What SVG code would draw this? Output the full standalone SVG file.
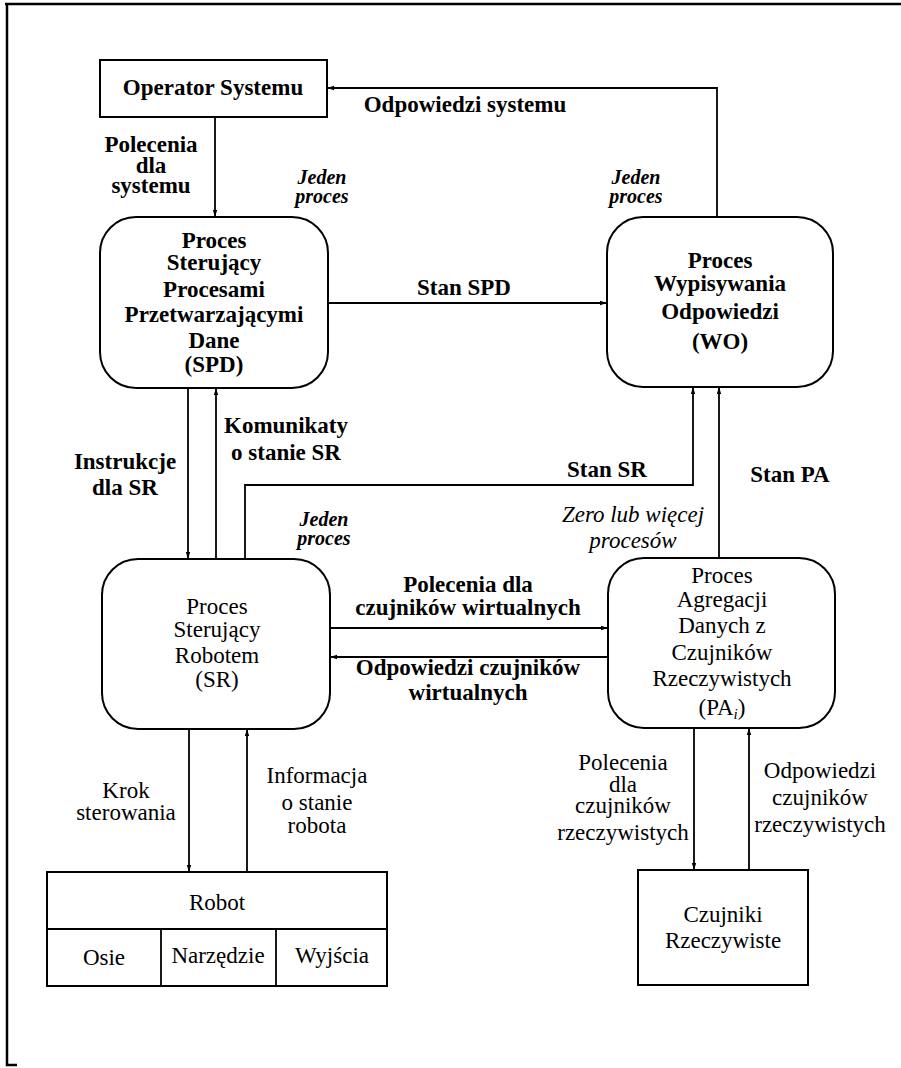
<svg xmlns="http://www.w3.org/2000/svg" width="901" height="1068" viewBox="0 0 901 1068">
<style>
text{font-family:"Liberation Serif","Times New Roman",serif;fill:#000;text-anchor:middle}
.b{font-weight:bold;font-size:23px}
.r{font-size:23px}
.bi{font-weight:bold;font-style:italic;font-size:20px}
.i{font-style:italic;font-size:23px}
.box{fill:#fff;stroke:#000;stroke-width:2}
.con{fill:none;stroke:#000;stroke-width:1.8}
.frame{fill:none;stroke:#000;stroke-width:2.5}
</style>
<defs>
<marker id="ah" viewBox="0 0 7 6" refX="7" refY="3" markerWidth="7" markerHeight="6" orient="auto" markerUnits="userSpaceOnUse"><path d="M0,0.8 L7,3 L0,5.2 z" fill="#000"/></marker>
</defs>
<rect width="901" height="1068" fill="#fff"/>
<path class="frame" d="M5,4 H901 M7,4 V1065 H17"/>

<g id="connectors">
<path class="con" marker-end="url(#ah)" d="M215,117 V217"/>
<path class="con" marker-end="url(#ah)" d="M717,217 V88 H327"/>
<path class="con" marker-end="url(#ah)" d="M328,303 H607"/>
<path class="con" marker-end="url(#ah)" d="M188,388 V559"/>
<path class="con" marker-end="url(#ah)" d="M216,559 V388"/>
<path class="con" marker-end="url(#ah)" d="M245,559 V485 H693 V387"/>
<path class="con" marker-end="url(#ah)" d="M719,558 V387"/>
<path class="con" marker-end="url(#ah)" d="M330,628 H608"/>
<path class="con" marker-end="url(#ah)" d="M608,657 H330"/>
<path class="con" marker-end="url(#ah)" d="M189,729 V872"/>
<path class="con" marker-end="url(#ah)" d="M247,872 V729"/>
<path class="con" marker-end="url(#ah)" d="M694,728 V870"/>
<path class="con" marker-end="url(#ah)" d="M749,870 V728"/>
</g>

<g id="labels">
<text class="b" x="151"><tspan x="151" y="152">Polecenia</tspan><tspan x="151" y="173">dla</tspan><tspan x="151" y="193">systemu</tspan></text>
<text class="b" x="465" y="112">Odpowiedzi systemu</text>
<text class="bi"><tspan x="322" y="184">Jeden</tspan><tspan x="322" y="203">proces</tspan></text>
<text class="bi"><tspan x="636" y="184">Jeden</tspan><tspan x="636" y="203">proces</tspan></text>
<text class="b" x="464" y="295">Stan SPD</text>
<text class="b"><tspan x="286" y="433">Komunikaty</tspan><tspan x="286" y="460">o stanie SR</tspan></text>
<text class="b"><tspan x="125" y="469">Instrukcje</tspan><tspan x="125" y="495">dla SR</tspan></text>
<text class="b" x="607" y="477">Stan SR</text>
<text class="b" x="790" y="482">Stan PA</text>
<text class="bi"><tspan x="324" y="526">Jeden</tspan><tspan x="324" y="545">proces</tspan></text>
<text class="i"><tspan x="633" y="522">Zero lub więcej</tspan><tspan x="633" y="548">procesów</tspan></text>
<text class="b"><tspan x="468" y="592">Polecenia dla</tspan><tspan x="468" y="615">czujników wirtualnych</tspan></text>
<text class="b"><tspan x="468" y="675">Odpowiedzi czujników</tspan><tspan x="468" y="700">wirtualnych</tspan></text>
<text class="r"><tspan x="126" y="798">Krok</tspan><tspan x="126" y="820">sterowania</tspan></text>
<text class="r"><tspan x="317" y="783">Informacja</tspan><tspan x="317" y="810">o stanie</tspan><tspan x="317" y="833">robota</tspan></text>
<text class="r"><tspan x="623" y="770">Polecenia</tspan><tspan x="623" y="792">dla</tspan><tspan x="623" y="813">czujników</tspan><tspan x="623" y="840">rzeczywistych</tspan></text>
<text class="r"><tspan x="820" y="778">Odpowiedzi</tspan><tspan x="820" y="805">czujników</tspan><tspan x="820" y="832">rzeczywistych</tspan></text>
</g>

<g id="operator">
<rect class="box" x="100" y="60" width="227" height="57"/>
<text class="b" x="213" y="95">Operator Systemu</text>
</g>

<g id="spd">
<rect class="box" x="100" y="217" width="228" height="171" rx="36"/>
<text class="b"><tspan x="214" y="248">Proces</tspan><tspan x="214" y="270">Sterujący</tspan><tspan x="214" y="297">Procesami</tspan><tspan x="214" y="322">Przetwarzającymi</tspan><tspan x="214" y="348">Dane</tspan><tspan x="214" y="372">(SPD)</tspan></text>
</g>

<g id="wo">
<rect class="box" x="607" y="217" width="226" height="170" rx="36"/>
<text class="b"><tspan x="720" y="268">Proces</tspan><tspan x="720" y="291">Wypisywania</tspan><tspan x="720" y="319">Odpowiedzi</tspan><tspan x="720" y="349">(WO)</tspan></text>
</g>

<g id="sr">
<rect class="box" x="102" y="559" width="228" height="170" rx="36"/>
<text class="r"><tspan x="217" y="614">Proces</tspan><tspan x="217" y="637">Sterujący</tspan><tspan x="217" y="663">Robotem</tspan><tspan x="217" y="687">(SR)</tspan></text>
</g>

<g id="pa">
<rect class="box" x="608" y="558" width="227" height="170" rx="36"/>
<text class="r"><tspan x="722" y="583">Proces</tspan><tspan x="722" y="607">Agregacji</tspan><tspan x="722" y="633">Danych z</tspan><tspan x="722" y="660">Czujników</tspan><tspan x="722" y="686">Rzeczywistych</tspan><tspan x="722" y="715">(PA<tspan font-style="italic" font-size="15" dy="4">i</tspan><tspan dy="-4">)</tspan></tspan></text>
</g>

<g id="robot">
<rect class="box" x="47" y="872" width="340" height="114"/>
<path class="con" d="M47,929 H387 M161,929 V986 M276,929 V986"/>
<text class="r" x="217" y="910">Robot</text>
<text class="r" x="104" y="965">Osie</text>
<text class="r" x="218" y="963">Narzędzie</text>
<text class="r" x="332" y="963">Wyjścia</text>
</g>

<g id="czujniki">
<rect class="box" x="638" y="870" width="170" height="115"/>
<text class="r"><tspan x="723" y="922">Czujniki</tspan><tspan x="723" y="948">Rzeczywiste</tspan></text>
</g>
</svg>
